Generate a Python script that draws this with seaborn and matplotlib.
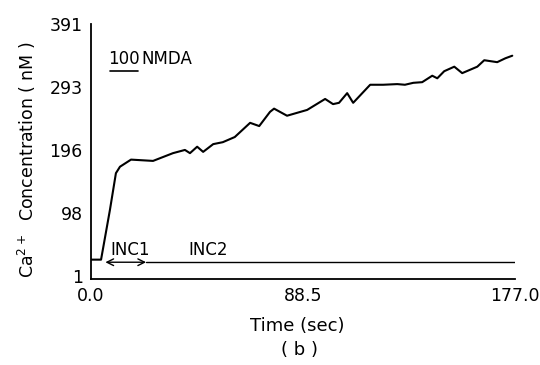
import matplotlib
matplotlib.use("Agg")
import matplotlib.pyplot as plt
import seaborn as sns
import pandas as pd
from matplotlib.lines import Line2D

# ---- data ----
time_sec = [0, 4.2, 7.9, 10.4, 12.1, 16.7, 25.9, 34.2, 39.2, 41.3, 44.3, 46.8, 51, 55, 60,
            66.4, 70.2, 74.7, 76.4, 81.8, 90.2, 97.7, 101, 103.5, 106.9, 109.4, 116.5,
            121.9, 127.8, 131, 134.5, 138.2, 142.4, 144.5, 147.4, 151.6, 154.9, 161.2,
            164.1, 169.5, 172.9, 175.8]
conc_nM = [26, 26, 103, 160, 170, 181, 179, 191, 196, 191, 201, 193, 205, 208, 216,
           238, 233, 255, 260, 249, 258, 275, 267, 269, 284, 269, 297,
           297, 298, 297, 300, 301, 311, 307, 318, 325, 315, 325,
           335, 332, 338, 342]
inc_line_time = [23.0, 177.0]
inc_line_conc = [22, 22]
inc1_span = [6.0, 23.0]
y_ticks = [1, 98, 196, 293, 391]
y_tick_labels = ["1", "98", "196", "293", "391"]
x_ticks = [0.0, 88.5, 177.0]
x_tick_labels = ["0.0", "88.5", "177.0"]
x_minor = [44.25, 132.75]

sns.set_theme(style="white")
plt.rcParams['font.family'] = ['DejaVu Sans']
plt.rcParams['text.color'] = 'black'
plt.rcParams['axes.labelcolor'] = 'black'

fig = plt.figure(figsize=(5.4, 3.65), dpi=100)
ax = fig.add_axes([0.1685, 0.2356, 0.954 - 0.1685, 0.934 - 0.2356])

df = pd.DataFrame({"t": time_sec, "c": conc_nM})
sns.lineplot(data=df, x="t", y="c", ax=ax, color="black", linewidth=1.5)
df2 = pd.DataFrame({"t": inc_line_time, "c": inc_line_conc})
sns.lineplot(data=df2, x="t", y="c", ax=ax, color="black", linewidth=1.0)

ax.annotate("", xy=(inc1_span[0], inc_line_conc[0]), xytext=(inc1_span[1], inc_line_conc[0]),
            arrowprops=dict(arrowstyle="<->", color="black", lw=1.0,
                            shrinkA=0, shrinkB=0))

ax.set_xlim(0, 177.0)
ax.set_ylim(-4, 391)
ax.set_xticks(x_ticks)
ax.set_xticklabels(x_tick_labels)
ax.set_xticks(x_minor, minor=True)
ax.set_yticks(y_ticks)
ax.set_yticklabels(y_tick_labels)

for s in ["top", "right"]:
    ax.spines[s].set_visible(False)
for s in ["left", "bottom"]:
    ax.spines[s].set_color("black")
    ax.spines[s].set_linewidth(1.3)

ax.tick_params(axis="both", which="both", direction="out", color="black",
               labelcolor="black", labelsize=12.5, width=1.2)
ax.tick_params(axis="both", which="major", length=4, pad=2)
ax.tick_params(axis="x", which="minor", length=4)

ax.set_xlabel("")
ax.set_ylabel("Ca$^{2+}$  Concentration ( nM )", fontsize=12.5, color="black")
ax.yaxis.set_label_coords(-0.125, 0.47)

fig.text(0.55, 0.107, "Time (sec)", ha="center", va="center", fontsize=13, color="black")
fig.text(0.555, 0.04, "( b )", ha="center", va="center", fontsize=13, color="black")

# annotations
ax.text(0.04, 0.865, "100", transform=ax.transAxes, fontsize=12, ha="left", va="center",
        color="black")
ax.text(0.118, 0.865, "NMDA", transform=ax.transAxes, fontsize=12, ha="left", va="center",
        color="black")
ax.add_line(Line2D([0.045, 0.111], [0.815, 0.815], transform=ax.transAxes,
                   color="black", lw=1.2))
ax.text(0.045, 0.115, "INC1", transform=ax.transAxes, fontsize=12, ha="left", va="center",
        color="black")
ax.text(0.23, 0.115, "INC2", transform=ax.transAxes, fontsize=12, ha="left", va="center",
        color="black")

fig.savefig("out.png", dpi=100)
